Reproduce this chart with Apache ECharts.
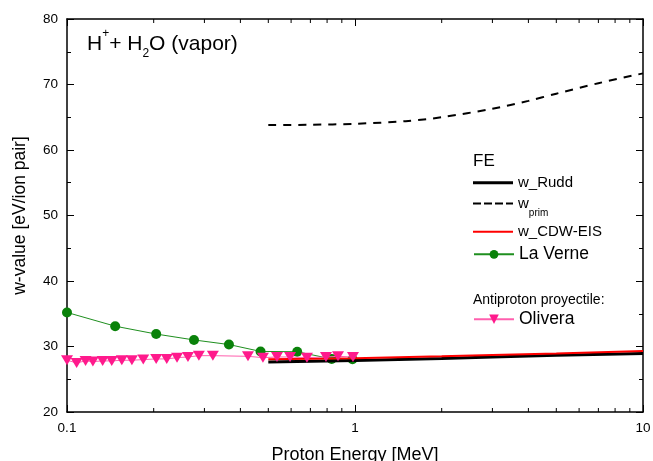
<!DOCTYPE html>
<html>
<head>
<meta charset="utf-8">
<script src="https://cdn.jsdelivr.net/npm/echarts@6/dist/echarts.min.js"></script>
<style>
  html, body { margin: 0; padding: 0; background: #fff; }
  #chart { width: 653px; height: 461px; }
</style>
</head>
<body>
<div id="chart"></div>
<script>
// Proton energy [MeV] and w-value [eV/ion pair]
const ruddE = [0.5, 1, 2, 3, 5, 10];
const ruddW = [27.65, 27.85, 28.15, 28.4, 28.65, 28.95];

const primE = [0.5, 0.7, 1, 1.5, 2, 3, 4, 5, 7, 10];
const primW = [63.8, 63.85, 64.0, 64.4, 65.0, 66.3, 67.5, 68.6, 70.2, 71.7];

const cdwE = [0.5, 1, 2, 3, 5, 10];
const cdwW = [28.05, 28.2, 28.5, 28.7, 28.95, 29.3];

const laVerneE = [0.1, 0.147, 0.204, 0.276, 0.365, 0.47, 0.63, 0.83, 0.98];
const laVerneW = [35.2, 33.1, 31.9, 31.0, 30.3, 29.25, 29.2, 28.1, 28.05];

const oliveraE = [0.100, 0.108, 0.116, 0.123, 0.133, 0.143, 0.155, 0.168, 0.184, 0.204,
                  0.222, 0.241, 0.263, 0.287, 0.321, 0.425, 0.479, 0.536, 0.595, 0.681,
                  0.793, 0.873, 0.984];
const oliveraW = [27.9, 27.5, 27.8, 27.7, 27.8, 27.8, 27.9, 27.9, 28.0, 28.1,
                  28.1, 28.3, 28.4, 28.6, 28.6, 28.5, 28.3, 28.4, 28.4, 28.3,
                  28.4, 28.5, 28.4];

// Axis ranges and tick values
const xMin = 0.1, xMax = 10;
const yMin = 20, yMax = 80, yStep = 10;
const xMinorTicks = [0.2, 0.3, 0.4, 0.5, 0.6, 0.7, 0.8, 0.9, 2, 3, 4, 5, 6, 7, 8, 9];

const FONT = '"Liberation Sans", Arial, sans-serif';
const zip = (a, b) => a.map((v, i) => [v, b[i]]);

const chart = echarts.init(document.getElementById('chart'), null, { renderer: 'canvas' });

const axisLineStyle = { color: '#000', width: 1.5 };

const option = {
  backgroundColor: '#fff',
  animation: false,
  textStyle: { fontFamily: FONT },
  grid: { left: 67, right: 10, top: 19, bottom: 49, containLabel: false, outerBoundsMode: 'none' },
  xAxis: [
    {
      type: 'log', logBase: 10, min: xMin, max: xMax, interval: 1,
      position: 'bottom',
      name: 'Proton Energy [MeV]', nameLocation: 'middle', nameGap: 34,
      nameTextStyle: { fontSize: 18, color: '#000', fontFamily: FONT },
      axisLine: { show: true, onZero: false, lineStyle: axisLineStyle },
      axisTick: { show: true, inside: true, length: 7, lineStyle: { color: '#000', width: 1 } },
      axisLabel: { show: true, margin: 9, fontSize: 13.5, color: '#000', fontFamily: FONT,
        formatter: v => String(+v.toPrecision(3)) },
      splitLine: { show: false }
    },
    {
      type: 'log', logBase: 10, min: xMin, max: xMax, interval: 1,
      position: 'top',
      axisLine: { show: true, onZero: false, lineStyle: axisLineStyle },
      axisTick: { show: true, inside: true, length: 7, lineStyle: { color: '#000', width: 1 } },
      axisLabel: { show: false },
      splitLine: { show: false }
    }
  ],
  yAxis: [
    {
      type: 'value', min: yMin, max: yMax, interval: yStep, position: 'left',
      name: 'w-value [eV/ion pair]', nameLocation: 'middle', nameGap: 38,
      nameTextStyle: { fontSize: 17.5, color: '#000', fontFamily: FONT },
      axisLine: { show: true, onZero: false, lineStyle: axisLineStyle },
      axisTick: { show: true, inside: true, length: 7, lineStyle: { color: '#000', width: 1 } },
      minorTick: { show: true, splitNumber: 2, length: 4, lineStyle: { color: '#000', width: 1 } },
      axisLabel: { show: true, margin: 9, fontSize: 13.5, color: '#000', fontFamily: FONT },
      splitLine: { show: false }, minorSplitLine: { show: false }
    },
    {
      type: 'value', min: yMin, max: yMax, interval: yStep, position: 'right',
      axisLine: { show: true, onZero: false, lineStyle: axisLineStyle },
      axisTick: { show: true, inside: true, length: 7, lineStyle: { color: '#000', width: 1 } },
      minorTick: { show: true, splitNumber: 2, length: 4, lineStyle: { color: '#000', width: 1 } },
      axisLabel: { show: false },
      splitLine: { show: false }, minorSplitLine: { show: false }
    }
  ],
  legend: [
    {
      data: [{ name: 'w_Rudd', icon: 'rect' }],
      left: 473, top: 182.7 - 9, padding: 0, itemWidth: 40, itemHeight: 3,
      selectedMode: false,
      textStyle: { fontSize: 15, lineHeight: 18, color: '#000', fontFamily: FONT }
    },
    {
      data: [{ name: 'w_prim', icon: 'path://M0,0h8v2h-8z M11,0h8v2h-8z M22,0h8v2h-8z M33,0h7v2h-7z' }],
      left: 473, top: 196, padding: 0, itemWidth: 40, itemHeight: 2,
      selectedMode: false,
      formatter: () => '{w|w}{s|prim}',
      textStyle: {
        color: '#000', fontFamily: FONT,
        rich: {
          w: { fontSize: 15, lineHeight: 29, color: '#000', fontFamily: FONT },
          s: { fontSize: 10, lineHeight: 10, verticalAlign: 'bottom', color: '#000', fontFamily: FONT }
        }
      }
    },
    {
      data: [{ name: 'w_CDW-EIS', icon: 'rect' }],
      left: 473, top: 231.7 - 9, padding: 0, itemWidth: 40, itemHeight: 2,
      selectedMode: false,
      textStyle: { fontSize: 15, lineHeight: 18, color: '#000', fontFamily: FONT }
    },
    {
      data: ['La Verne'],
      left: 473, top: 254.3 - 10, padding: 0, itemWidth: 40, itemHeight: 11,
      selectedMode: false,
      textStyle: { fontSize: 17.5, lineHeight: 20, color: '#000', fontFamily: FONT }
    },
    {
      data: ['Olivera'],
      left: 473, top: 319.3 - 10, padding: 0, itemWidth: 40, itemHeight: 12,
      selectedMode: false,
      textStyle: { fontSize: 17.5, lineHeight: 20, color: '#000', fontFamily: FONT }
    }
  ],
  graphic: [
    {
      type: 'text', left: 87, top: 28, z: 10,
      style: {
        text: '{a|H}{p|+}{a|+ H}{b|2}{a|O (vapor)}',
        fill: '#000',
        rich: {
          a: { fontSize: 21, lineHeight: 32, fontFamily: FONT, fill: '#000' },
          p: { fontSize: 12, lineHeight: 25, verticalAlign: 'top', fontFamily: FONT, fill: '#000' },
          b: { fontSize: 12, lineHeight: 7, verticalAlign: 'bottom', fontFamily: FONT, fill: '#000' }
        }
      }
    },
    {
      type: 'text', left: 473, top: 153, z: 10,
      style: { text: 'FE', fontSize: 17, fontFamily: FONT, fill: '#000' }
    },
    {
      type: 'text', left: 473, top: 293, z: 10,
      style: { text: 'Antiproton proyectile:', fontSize: 14, fontFamily: FONT, fill: '#000' }
    }
  ],
  series: [
    {
      name: 'La Verne', type: 'line', xAxisIndex: 0, yAxisIndex: 0, z: 2,
      data: zip(laVerneE, laVerneW),
      symbol: 'circle', symbolSize: 10, showSymbol: true,
      itemStyle: { color: '#0a820a' },
      lineStyle: { color: '#1f8f1f', width: 1 }
    },
    {
      name: 'w_Rudd', type: 'line', xAxisIndex: 0, yAxisIndex: 0, z: 3,
      data: zip(ruddE, ruddW), smooth: false,
      symbol: 'none',
      itemStyle: { color: '#000' },
      lineStyle: { color: '#000', width: 3 }
    },
    {
      name: 'w_prim', type: 'line', xAxisIndex: 0, yAxisIndex: 0, z: 3,
      data: zip(primE, primW), smooth: 0.3,
      symbol: 'none',
      itemStyle: { color: '#000' },
      lineStyle: { color: '#000', width: 2, type: [8, 7] }
    },
    {
      name: 'w_CDW-EIS', type: 'line', xAxisIndex: 0, yAxisIndex: 0, z: 3,
      data: zip(cdwE, cdwW),
      symbol: 'none',
      itemStyle: { color: '#ff0000' },
      lineStyle: { color: '#ff0000', width: 2 }
    },
    {
      name: 'Olivera', type: 'line', xAxisIndex: 0, yAxisIndex: 0, z: 4,
      data: zip(oliveraE, oliveraW),
      symbol: 'triangle', symbolRotate: 180, symbolSize: [12, 10], showSymbol: true,
      itemStyle: { color: '#ff1a8c' },
      lineStyle: { color: '#ff5fae', width: 1 }
    },
    {
      // minor ticks of the logarithmic energy axis (2..9 in each decade), bottom and top
      name: 'xMinorTicks', type: 'custom', xAxisIndex: 0, yAxisIndex: 0, z: 5,
      silent: true, clip: false,
      data: xMinorTicks.map(v => [v, yMin]),
      renderItem: (params, api) => {
        const x = api.coord([api.value(0), yMin])[0];
        const yb = api.coord([api.value(0), yMin])[1];
        const yt = api.coord([api.value(0), yMax])[1];
        return {
          type: 'group',
          children: [
            { type: 'line', shape: { x1: x, y1: yb, x2: x, y2: yb - 4 }, style: { stroke: '#000', lineWidth: 1 } },
            { type: 'line', shape: { x1: x, y1: yt, x2: x, y2: yt + 4 }, style: { stroke: '#000', lineWidth: 1 } }
          ]
        };
      }
    }
  ]
};

chart.setOption(option);
</script>
</body>
</html>
